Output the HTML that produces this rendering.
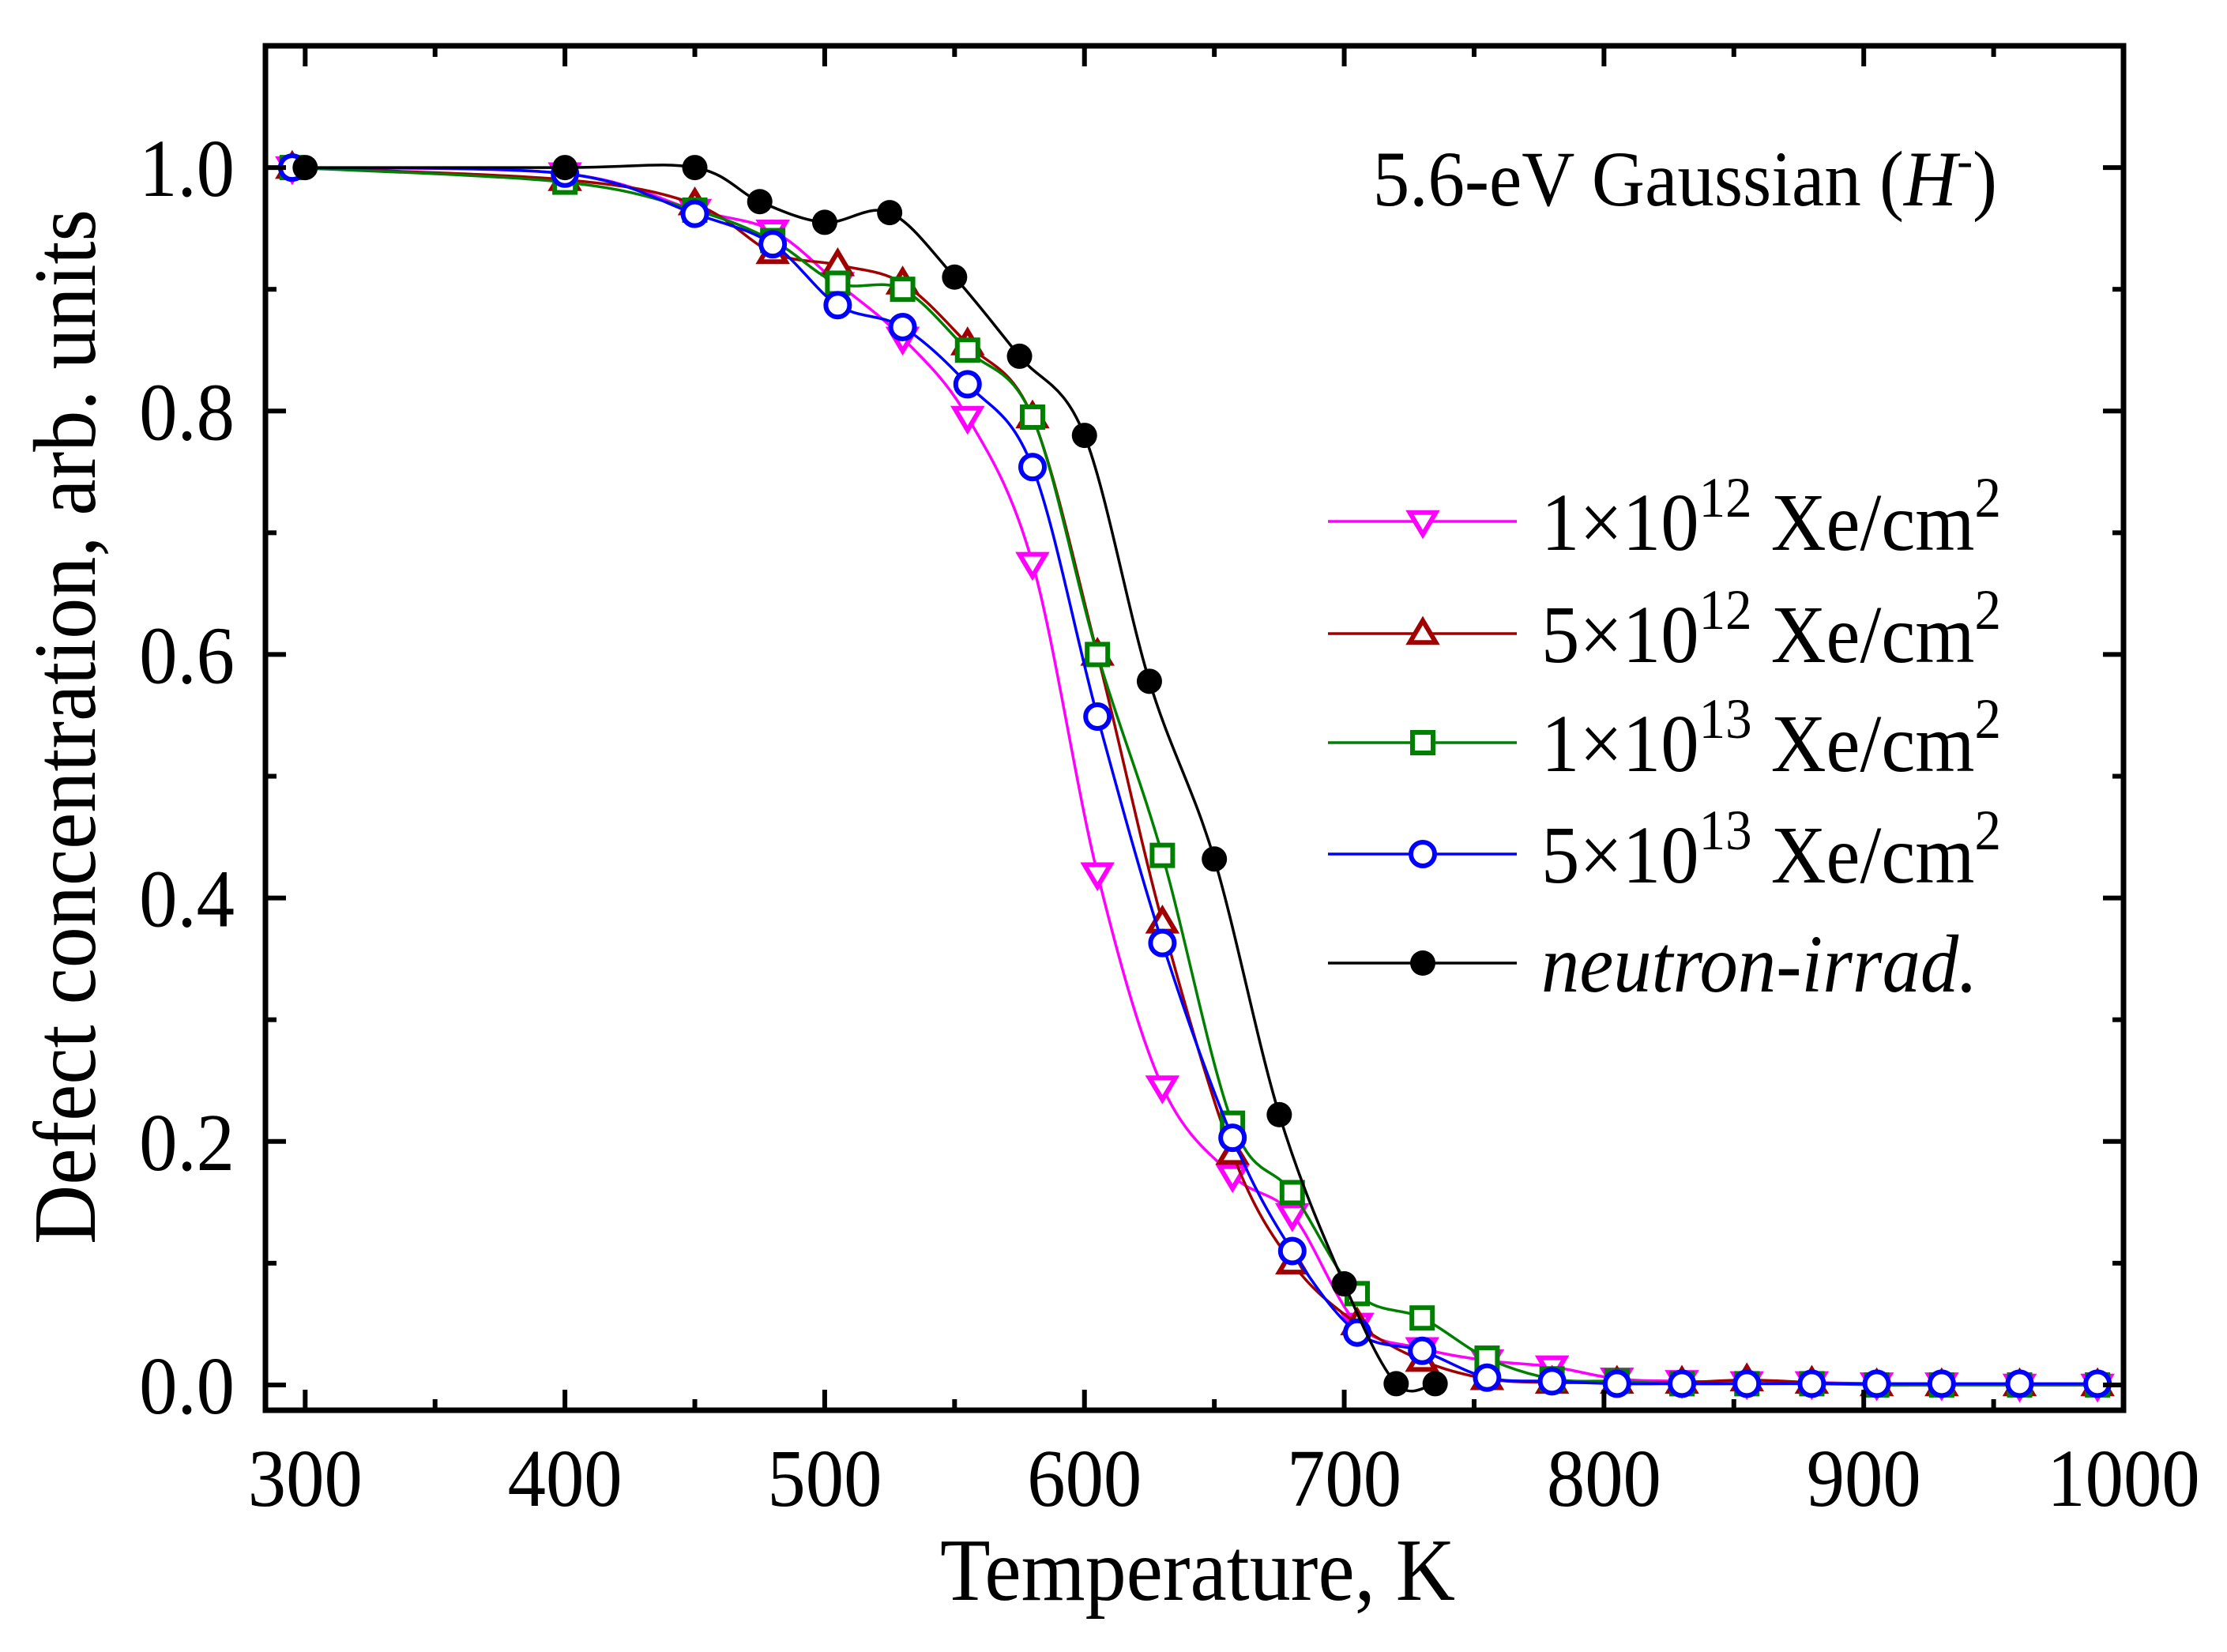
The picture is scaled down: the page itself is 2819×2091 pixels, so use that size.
<!DOCTYPE html>
<html><head><meta charset="utf-8"><style>
html,body{margin:0;padding:0;background:#fff}
svg{display:block}
text{font-family:"Liberation Serif",serif;fill:#000}
</style></head><body>
<svg id="chart" width="2819" height="2091" viewBox="0 0 2819 2091" xmlns="http://www.w3.org/2000/svg">
<g id="plot"></g>
<g id="axes"></g>
<g id="legend"></g>
<text transform="translate(2528,260) scale(0.93,1)" font-size="100" text-anchor="end">5.6-eV Gaussian (<tspan font-style="italic">H</tspan><tspan dy="-36" font-size="64">-</tspan><tspan dy="36">)</tspan></text>
<text transform="translate(1516,2025) scale(0.93,1)" font-size="112" text-anchor="middle">Temperature, K</text>
<text transform="translate(120,920) rotate(-90) scale(0.93,1)" font-size="112" text-anchor="middle">Defect concentration, arb. units</text>
</svg>
<script>
const xTicks=[300,400,500,600,700,800,900,1000];
const yTicks=[0.0,0.2,0.4,0.6,0.8,1.0];
const tMag=[295,400,450,480,505,530,555,580,605,630,657,680,705,730,755,780,805,830,855,880,905,930,960,990];
const vMag=[1.0,0.995,0.965,0.948,0.905,0.86,0.795,0.675,0.42,0.245,0.172,0.14,0.05,0.03,0.02,0.015,0.005,0.003,0.002,0.002,0.001,0.001,0,0];
const tRed=[295,400,450,480,505,530,555,580,605,630,657,680,705,730,755,780,805,830,855,880,905,930,960,990];
const vRed=[1,0.99,0.97,0.93,0.92,0.905,0.855,0.795,0.6,0.38,0.19,0.1,0.05,0.02,0.005,0.002,0.002,0.002,0.004,0.002,0,0,0,0];
const tGrn=[295,400,450,480,505,530,555,580,605,630,657,680,705,730,755,780,805,830,855,880,905,930,960,990];
const vGrn=[1,0.988,0.965,0.94,0.905,0.9,0.85,0.795,0.6,0.435,0.215,0.158,0.075,0.055,0.022,0.005,0.003,0.001,0.001,0.001,0,0,0,0];
const tBlu=[295,400,450,480,505,530,555,580,605,630,657,680,705,730,755,780,805,830,855,880,905,930,960,990];
const vBlu=[1,0.995,0.962,0.937,0.887,0.869,0.822,0.754,0.549,0.363,0.203,0.11,0.043,0.028,0.006,0.003,0.001,0.001,0.001,0.001,0.001,0.001,0.001,0.001];
const tBlk=[300,400,450,475,500,525,550,575,600,625,650,675,700,720,735];
const vBlk=[1,1,1,0.972,0.955,0.963,0.91,0.845,0.78,0.578,0.432,0.222,0.083,0.001,0.001];
const seriesNames=["1×10¹² Xe/cm²","5×10¹² Xe/cm²","1×10¹³ Xe/cm²","5×10¹³ Xe/cm²","neutron-irrad."];

const NS="http://www.w3.org/2000/svg";
const L=336,R=2688,T=58,B=1785;
const xMin=284.7,xMax=1000,yMin=-0.0208,yMax=1.1;
const x=t=>L+(t-xMin)/(xMax-xMin)*(R-L);
const y=v=>B-(v-yMin)/(yMax-yMin)*(B-T);
function mk(tag,attrs,parent){const e=document.createElementNS(NS,tag);for(const k in attrs)e.setAttribute(k,attrs[k]);parent.appendChild(e);return e;}
const plot=document.getElementById('plot'),axes=document.getElementById('axes'),legend=document.getElementById('legend');

function smooth(pts){let d=`M${pts[0][0]},${pts[0][1]}`;for(let i=0;i<pts.length-1;i++){const p0=pts[Math.max(0,i-1)],p1=pts[i],p2=pts[i+1],p3=pts[Math.min(pts.length-1,i+2)];const c1=[p1[0]+(p2[0]-p0[0])/6,p1[1]+(p2[1]-p0[1])/6],c2=[p2[0]-(p3[0]-p1[0])/6,p2[1]-(p3[1]-p1[1])/6];d+=` C${c1[0]},${c1[1]} ${c2[0]},${c2[1]} ${p2[0]},${p2[1]}`;}return d;}
function marker(shape,cx,cy,col,g){const r=15;let e;
 if(shape==='down'){e=mk('path',{d:`M${cx-r*1.1},${cy-r*0.75} L${cx+r*1.1},${cy-r*0.75} L${cx},${cy+r*1.1} Z`,fill:'#fff',stroke:col,'stroke-width':6},g);}
 else if(shape==='up'){e=mk('path',{d:`M${cx-r*1.1},${cy+r*0.75} L${cx+r*1.1},${cy+r*0.75} L${cx},${cy-r*1.1} Z`,fill:'#fff',stroke:col,'stroke-width':6},g);}
 else if(shape==='square'){e=mk('rect',{x:cx-13,y:cy-13,width:26,height:26,fill:'#fff',stroke:col,'stroke-width':6},g);}
 else if(shape==='circle'){e=mk('circle',{cx:cx,cy:cy,r:r,fill:'#fff',stroke:col,'stroke-width':6},g);}
 else {e=mk('circle',{cx:cx,cy:cy,r:16,fill:col},g);}
 return e;}
const series=[[tMag,vMag,'#ff00ff','down','series-1e12'],[tRed,vRed,'#a00000','up','series-5e12'],[tGrn,vGrn,'#008000','square','series-1e13'],[tBlu,vBlu,'#0000ff','circle','series-5e13'],[tBlk,vBlk,'#000','filled','series-neutron']];
series.forEach((s,si)=>{const g=mk('g',{},plot);
 
 
 const pts=s[0].map((t,i)=>[x(t),y(s[1][i])]);
 const ln=mk('path',{d:smooth(pts),fill:'none',stroke:s[2],'stroke-width':3.5},g);
 
 
 pts.forEach(p=>{const m=marker(s[3],p[0],p[1],s[2],g);
  
  });
 const ly=[660,802,940,1081,1219][si];
 const lg=mk('g',{},legend);
 
 
 mk('line',{x1:1681,x2:1920,y1:ly,y2:ly,stroke:s[2],'stroke-width':3.5},lg);
 marker(s[3],1801,ly,s[2],lg);
 const tx=mk('text',{transform:`translate(1951,${ly+36}) scale(0.93,1)`,'font-size':104},lg);
 if(si<4){const p=seriesNames[si].match(/^(\d)×10(.+) Xe\/cm²$/);
  const exp={'¹²':'12','¹³':'13'}[p[2]];
  tx.innerHTML=`${p[1]}×10<tspan dy="-42" font-size="72">${exp}</tspan><tspan dy="42"> Xe/cm</tspan><tspan dy="-42" font-size="72">2</tspan>`;}
 else {tx.setAttribute('font-style','italic');tx.textContent=seriesNames[si];}
});
const fr=mk('rect',{x:L,y:T,width:R-L,height:B-T,fill:'none',stroke:'#000','stroke-width':7},axes);


for(let t=300;t<=1000;t+=50){const maj=t%100===0,len=maj?26:14,X=x(t);
 mk('line',{x1:X,x2:X,y1:B,y2:B-len,stroke:'#000','stroke-width':6},axes);
 mk('line',{x1:X,x2:X,y1:T,y2:T+len,stroke:'#000','stroke-width':6},axes);}
xTicks.forEach(t=>{const e=mk('text',{transform:`translate(${x(t)},1906) scale(0.93,1)`,'font-size':104,'text-anchor':'middle'},axes);e.textContent=String(t);
 
 });
for(let i=0;i<=11;i++){const v=i*0.1,maj=i%2===0,len=maj?26:14,Y=y(v);
 mk('line',{x1:L,x2:L+len,y1:Y,y2:Y,stroke:'#000','stroke-width':6},axes);
 mk('line',{x1:R,x2:R-len,y1:Y,y2:Y,stroke:'#000','stroke-width':6},axes);}
yTicks.forEach(v=>{const e=mk('text',{transform:`translate(297,${y(v)+36}) scale(0.93,1)`,'font-size':104,'text-anchor':'end'},axes);e.textContent=v.toFixed(1);
 
 });
</script>
</body></html>
